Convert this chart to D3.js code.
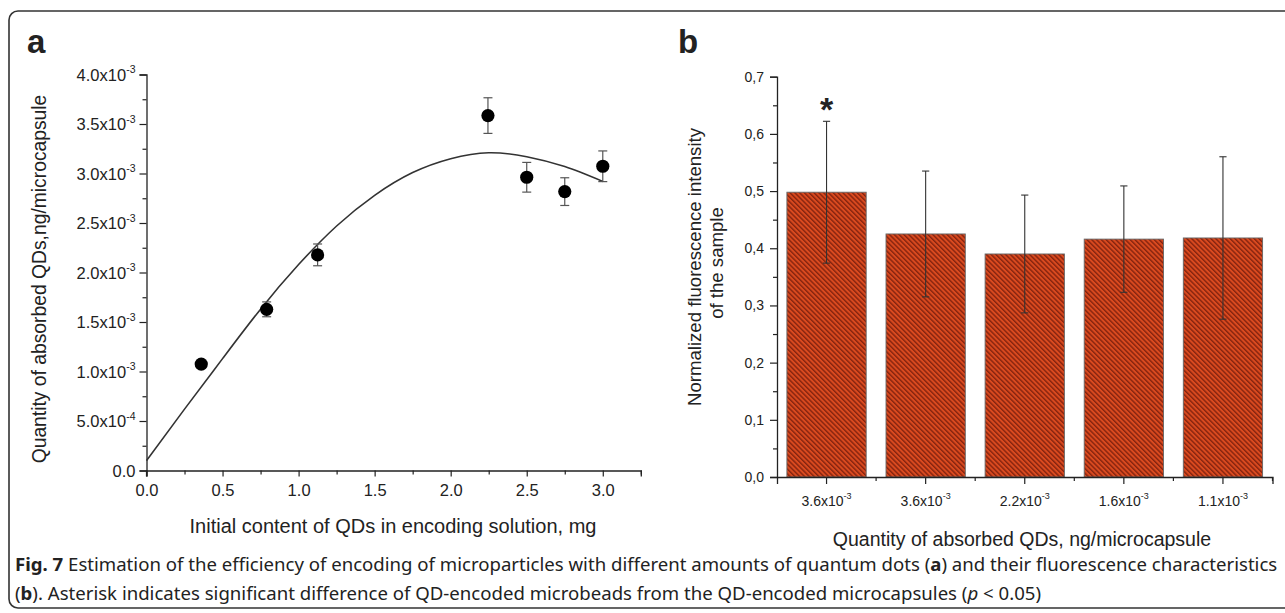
<!DOCTYPE html>
<html>
<head>
<meta charset="utf-8">
<script src="https://cdn.jsdelivr.net/npm/d3@7"></script>
<style>
  html, body { margin: 0; padding: 0; background: #fff; }
  svg { display: block; }
  text { font-family: "Liberation Sans", Arial, sans-serif; fill: #222; }
</style>
</head>
<body>
<script>
// ---------- Panel a data ----------
const xPointsA = [0.36, 0.79, 1.125, 2.245, 2.5, 2.75, 3.0];          // mg
const yPointsA = [1.075, 1.628, 2.178, 3.585, 2.962, 2.817, 3.073];  // x10^-3 ng/microcapsule
const errPointsA = [0.03, 0.075, 0.11, 0.18, 0.15, 0.14, 0.155];     // x10^-3
const fitXA = [0, 0.25, 0.5, 0.75, 1.0, 1.25, 1.5, 1.75, 2.0, 2.25, 2.5, 2.75, 3.0];
const fitYA = [0.10, 0.62, 1.13, 1.63, 2.08, 2.47, 2.78, 3.01, 3.15, 3.21, 3.17, 3.07, 2.92];
const xTicksA = [0, 0.25, 0.5, 0.75, 1.0, 1.25, 1.5, 1.75, 2.0, 2.25, 2.5, 2.75, 3.0, 3.25];
const xTickLabelsA = ["0.0", "", "0.5", "", "1.0", "", "1.5", "", "2.0", "", "2.5", "", "3.0", ""];
const yTicksA = [0, 0.25, 0.5, 0.75, 1.0, 1.25, 1.5, 1.75, 2.0, 2.25, 2.5, 2.75, 3.0, 3.25, 3.5, 3.75, 4.0];
const yTickBaseA = ["0.0", "", "5.0x10", "", "1.0x10", "", "1.5x10", "", "2.0x10", "", "2.5x10", "", "3.0x10", "", "3.5x10", "", "4.0x10"];
const yTickExpA  = ["", "", "-4", "", "-3", "", "-3", "", "-3", "", "-3", "", "-3", "", "-3", "", "-3"];

// ---------- Panel b data ----------
const catBaseB = ["3.6x10", "3.6x10", "2.2x10", "1.6x10", "1.1x10"];
const catExpB  = ["-3", "-3", "-3", "-3", "-3"];
const valuesB  = [0.498, 0.425, 0.390, 0.416, 0.418];
const errB     = [0.124, 0.110, 0.103, 0.093, 0.142];
const yTicksB  = [0, 0.05, 0.1, 0.15, 0.2, 0.25, 0.3, 0.35, 0.4, 0.45, 0.5, 0.55, 0.6, 0.65, 0.7];
const yTickLabelsB = ["0,0", "", "0,1", "", "0,2", "", "0,3", "", "0,4", "", "0,5", "", "0,6", "", "0,7"];

const W = 1285, H = 613;
const svg = d3.select("body").append("svg").attr("width", W).attr("height", H);

// frame
svg.append("rect").attr("x", 9).attr("y", 11).attr("width", 1320).attr("height", 597)
  .attr("rx", 9).attr("fill", "none").attr("stroke", "#333").attr("stroke-width", 1.6);

// hatch pattern
const defs = svg.append("defs");
const pat = defs.append("pattern").attr("id", "hatch").attr("patternUnits", "userSpaceOnUse")
  .attr("width", 3.4).attr("height", 3.4).attr("patternTransform", "rotate(-45)");
pat.append("rect").attr("width", 3.4).attr("height", 3.4).attr("fill", "#da4a1f");
pat.append("rect").attr("width", 1.4).attr("height", 3.4).attr("fill", "#84230f");

const axisColor = "#222";
function styleAxis(g) {
  g.selectAll("path.domain").attr("stroke", axisColor).attr("stroke-width", 1.3);
  g.selectAll(".tick line").attr("stroke", axisColor).attr("stroke-width", 1.2);
}

// ================= Panel a =================
const xA = d3.scaleLinear().domain([0, 3.25]).range([146.5, 640.8]);
const yA = d3.scaleLinear().domain([0, 4.0]).range([470.5, 74.5]);

// x axis
const gxA = svg.append("g").attr("transform", `translate(0,${yA(0)})`)
  .call(d3.axisBottom(xA).tickValues(xTicksA).tickSizeOuter(0)
    .tickFormat((d, i) => xTickLabelsA[i]).tickSize(6).tickPadding(8));
gxA.selectAll(".tick").each(function (d, i) {
  if (!xTickLabelsA[i]) d3.select(this).select("line").attr("y2", 4);
});
gxA.selectAll("text").attr("font-size", 16.5).attr("fill", "#222");
styleAxis(gxA);

// y axis
const gyA = svg.append("g").attr("transform", `translate(${xA(0)},0)`)
  .call(d3.axisLeft(yA).tickValues(yTicksA).tickSizeOuter(0)
    .tickFormat(() => "").tickSize(7).tickPadding(4));
gyA.selectAll(".tick").each(function (d, i) {
  const t = d3.select(this);
  if (!yTickBaseA[i]) { t.select("line").attr("x2", -4); return; }
  const tx = t.select("text").attr("font-size", 16.5).attr("fill", "#222").attr("dy", "0.36em");
  tx.append("tspan").text(yTickBaseA[i]);
  if (yTickExpA[i]) tx.append("tspan").attr("font-size", 10.5).attr("dy", "-0.75em").text(yTickExpA[i]);
});
styleAxis(gyA);
svg.append("line").attr("x1", xA(0)).attr("x2", xA(0)).attr("y1", yA(0)).attr("y2", yA(0) + 6)
  .attr("stroke", axisColor).attr("stroke-width", 1.2);

// fitted curve
const fitData = fitXA.map((x, i) => [x, fitYA[i]]);
svg.append("path").datum(fitData)
  .attr("d", d3.line().x(d => xA(d[0])).y(d => yA(d[1])).curve(d3.curveNatural))
  .attr("fill", "none").attr("stroke", "#333").attr("stroke-width", 1.6);

// error bars + points
const ptsA = xPointsA.map((x, i) => ({ x, y: yPointsA[i], e: errPointsA[i] }));
const eg = svg.append("g").attr("stroke", "#555").attr("stroke-width", 1.2);
ptsA.forEach(p => {
  const cx = xA(p.x);
  eg.append("line").attr("x1", cx).attr("x2", cx).attr("y1", yA(p.y - p.e)).attr("y2", yA(p.y + p.e));
  eg.append("line").attr("x1", cx - 4.5).attr("x2", cx + 4.5).attr("y1", yA(p.y + p.e)).attr("y2", yA(p.y + p.e));
  eg.append("line").attr("x1", cx - 4.5).attr("x2", cx + 4.5).attr("y1", yA(p.y - p.e)).attr("y2", yA(p.y - p.e));
});
svg.append("g").selectAll("circle").data(ptsA).join("circle")
  .attr("cx", d => xA(d.x)).attr("cy", d => yA(d.y)).attr("r", 6.6).attr("fill", "#000");

// labels
svg.append("text").attr("x", 393).attr("y", 533).attr("text-anchor", "middle")
  .attr("font-size", 20).text("Initial content of QDs in encoding solution, mg");
svg.append("text").attr("transform", "translate(46,279) rotate(-90)").attr("text-anchor", "middle")
  .attr("font-size", 19.3).text("Quantity of absorbed QDs,ng/microcapsule");
svg.append("text").attr("x", 27).attr("y", 53).attr("font-size", 33).attr("font-weight", "bold")
  .attr("fill", "#000").text("a");

// ================= Panel b =================
const idx = d3.range(valuesB.length);
const xB = d3.scaleBand().domain(idx).range([777, 1272.5]).paddingInner(0.2).paddingOuter(0.1);
const yB = d3.scaleLinear().domain([0, 0.7]).range([477, 76.7]);

// bars
svg.append("g").selectAll("rect").data(idx).join("rect")
  .attr("x", i => xB(i)).attr("width", xB.bandwidth())
  .attr("y", i => yB(valuesB[i])).attr("height", i => yB(0) - yB(valuesB[i]))
  .attr("fill", "url(#hatch)").attr("stroke", "#666").attr("stroke-width", 0.9);

// error bars
const egB = svg.append("g").attr("stroke", "#333").attr("stroke-width", 1.1);
idx.forEach(i => {
  const cx = xB(i) + xB.bandwidth() / 2;
  const top = yB(valuesB[i] + errB[i]), bot = yB(valuesB[i] - errB[i]);
  egB.append("line").attr("x1", cx).attr("x2", cx).attr("y1", bot).attr("y2", top);
  egB.append("line").attr("x1", cx - 3.6).attr("x2", cx + 3.6).attr("y1", top).attr("y2", top);
  egB.append("line").attr("x1", cx - 3.6).attr("x2", cx + 3.6).attr("y1", bot).attr("y2", bot);
});

// asterisk
svg.append("text").attr("x", xB(0) + xB.bandwidth() / 2).attr("y", 121).attr("text-anchor", "middle")
  .attr("font-size", 34).attr("font-weight", "bold").attr("fill", "#111").text("*");

// x axis b
const gxB = svg.append("g").attr("transform", `translate(0,${yB(0)})`)
  .call(d3.axisBottom(xB).tickSizeOuter(0).tickFormat(() => "").tickSize(7).tickPadding(12));
gxB.selectAll(".tick").each(function (d, i) {
  const tx = d3.select(this).select("text").attr("font-size", 14).attr("fill", "#222");
  tx.append("tspan").text(catBaseB[i]);
  tx.append("tspan").attr("font-size", 9).attr("dy", "-0.8em").text(catExpB[i]);
});
const boundaries = idx.slice(1).map(i => (xB(i - 1) + xB.bandwidth() + xB(i)) / 2).concat([1272.5]);
svg.append("g").selectAll("line").data(boundaries).join("line")
  .attr("x1", d => d).attr("x2", d => d).attr("y1", yB(0)).attr("y2", yB(0) + 4)
  .attr("stroke", axisColor).attr("stroke-width", 1.2);
styleAxis(gxB);

// y axis b
const gyB = svg.append("g").attr("transform", "translate(777,0)")
  .call(d3.axisLeft(yB).tickValues(yTicksB).tickSizeOuter(0)
    .tickFormat((d, i) => yTickLabelsB[i]).tickSize(7).tickPadding(6));
gyB.selectAll(".tick").each(function (d, i) {
  if (!yTickLabelsB[i]) d3.select(this).select("line").attr("x2", -4);
});
gyB.selectAll("text").attr("font-size", 14).attr("fill", "#222");
styleAxis(gyB);

// labels b
svg.append("text").attr("x", 1022).attr("y", 546).attr("text-anchor", "middle")
  .attr("font-size", 19.5).text("Quantity of absorbed QDs, ng/microcapsule");
svg.append("text").attr("transform", "translate(701,267) rotate(-90)").attr("text-anchor", "middle")
  .attr("font-size", 18.6).text("Normalized fluorescence intensity");
svg.append("text").attr("transform", "translate(723,263) rotate(-90)").attr("text-anchor", "middle")
  .attr("font-size", 18.6).text("of the sample");
svg.append("text").attr("x", 678).attr("y", 53).attr("font-size", 33).attr("font-weight", "bold")
  .attr("fill", "#000").text("b");

// ================= Caption =================
const capFont = '"Noto Sans", "Open Sans", sans-serif';
const cap1 = svg.append("text").attr("x", 15).attr("y", 571).attr("font-size", 17)
  .style("font-family", capFont).attr("fill", "#231f20");
cap1.append("tspan").attr("font-weight", "bold").text("Fig. 7");
cap1.append("tspan").text(" Estimation of the efficiency of encoding of microparticles with different amounts of quantum dots (");
cap1.append("tspan").attr("font-weight", "bold").text("a");
cap1.append("tspan").text(") and their fluorescence characteristics");
const cap2 = svg.append("text").attr("x", 15).attr("y", 600).attr("font-size", 17)
  .style("font-family", capFont).attr("fill", "#231f20");
cap2.append("tspan").text("(");
cap2.append("tspan").attr("font-weight", "bold").text("b");
cap2.append("tspan").text("). Asterisk indicates significant difference of QD-encoded microbeads from the QD-encoded microcapsules (");
cap2.append("tspan").attr("font-style", "italic").text("p");
cap2.append("tspan").text(" < 0.05)");
const len1 = cap1.node().getComputedTextLength();
const fs = 17 * 1263 / len1;
cap1.attr("font-size", fs);
cap2.attr("font-size", fs);
</script>
</body>
</html>
